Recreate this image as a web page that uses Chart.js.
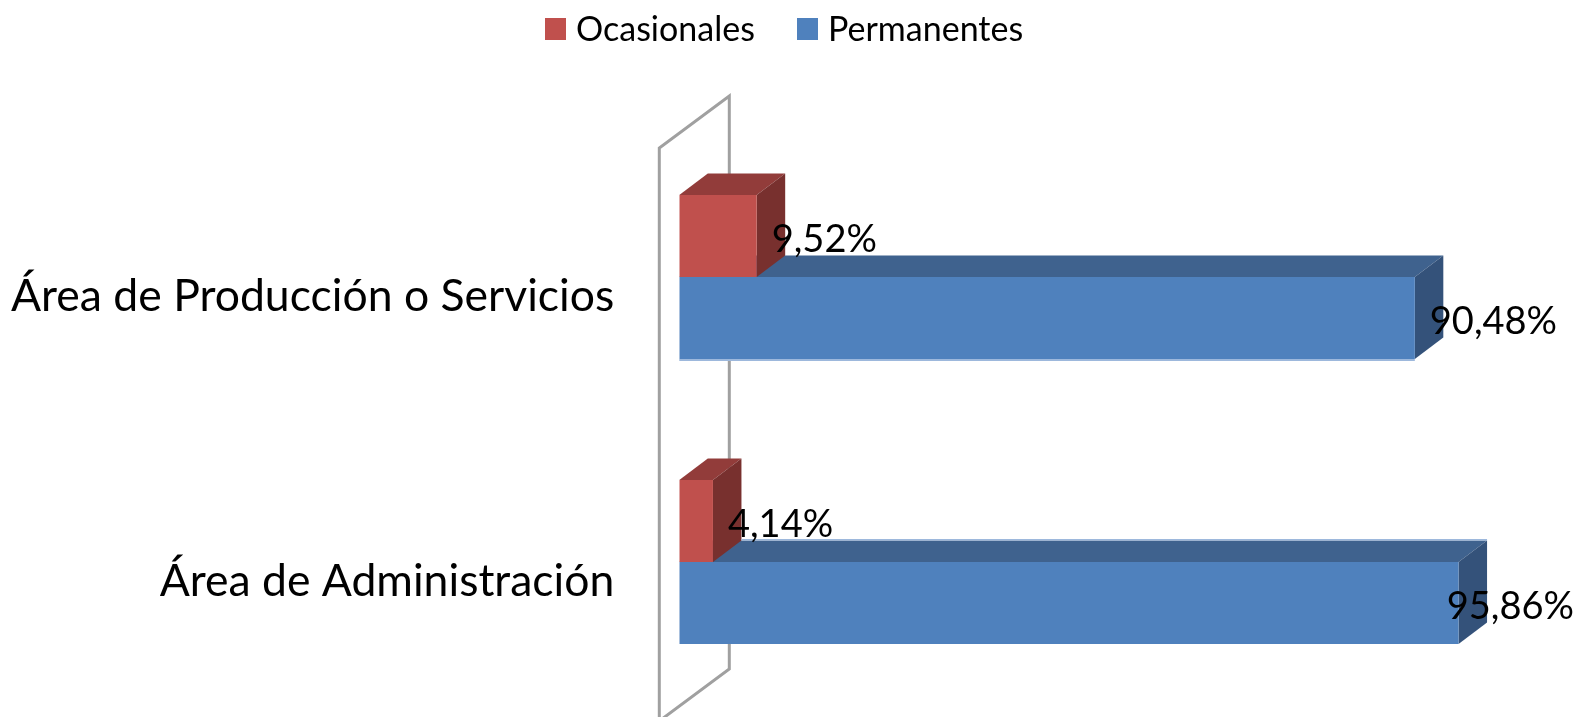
<!DOCTYPE html>
<html>
<head>
<meta charset="utf-8">
<style>html,body{margin:0;padding:0;background:#fff;overflow:hidden}#c{display:block}</style>
<script src="https://cdn.jsdelivr.net/npm/chart.js@4"></script>
</head>
<body>
<div style="width:1580px;height:717px"><canvas id="c" width="1580" height="717"></canvas></div>
<script>
const categories = ['Área de Producción o Servicios', 'Área de Administración'];
const ocasionales = [9.52, 4.14];
const permanentes = [90.48, 95.86];

const FONT = 'Lato, Carlito, "Open Sans", sans-serif';
const DX = 28.5, DY = 21.5;
const shades = {
  '#C0504D': {top: '#923C3A', side: '#78302E'},
  '#4F81BD': {top: '#3F628E', side: '#34527A'}
};

function poly(ctx, pts, fill) {
  ctx.beginPath();
  pts.forEach((p, i) => i ? ctx.lineTo(p[0], p[1]) : ctx.moveTo(p[0], p[1]));
  ctx.closePath();
  ctx.fillStyle = fill;
  ctx.fill();
}

function box3d(ctx, bar, color) {
  const s = shades[color];
  const b = bar.getProps(['x', 'y', 'base', 'height'], true);
  const t = b.y - b.height / 2, u = b.y + b.height / 2;
  poly(ctx, [[b.base, t], [b.base + DX, t - DY], [b.x + DX, t - DY], [b.x, t]], s.top);
  poly(ctx, [[b.x, t], [b.x + DX, t - DY], [b.x + DX, u - DY], [b.x, u]], s.side);
}

const depthPlugin = {
  id: 'depth',
  beforeDatasetsDraw(chart) {
    const ctx = chart.ctx, a = chart.chartArea;
    ctx.save();
    // back wall outline
    const wl = a.left - 20, wr = wl + 70, rise = 52;
    const top = a.top + 13.5, bot = a.bottom - 35.5;
    ctx.strokeStyle = '#A0A0A0';
    ctx.lineWidth = 3;
    ctx.beginPath();
    ctx.moveTo(wl, a.bottom + 30);
    ctx.lineTo(wl, top);
    ctx.lineTo(wr, top - rise);
    ctx.lineTo(wr, bot);
    ctx.lineTo(wl, bot + rise);
    ctx.stroke();
    // blue boxes sit behind the red ones
    [1, 0].forEach(d => {
      chart.getDatasetMeta(d).data.forEach(bar => box3d(ctx, bar, chart.data.datasets[d].backgroundColor));
    });
    // light edges visible in the picture
    const m = chart.getDatasetMeta(1);
    const p0 = m.data[0].getProps(['x', 'y', 'base', 'height'], true);
    const p1 = m.data[1].getProps(['x', 'y', 'base', 'height'], true);
    const redEnd = chart.getDatasetMeta(0).data[1].x;
    ctx.fillStyle = '#9DB8DC';
    ctx.fillRect(p0.base, p0.y + p0.height / 2, p0.x - p0.base, 2);
    ctx.fillRect(redEnd + DX, p1.y - p1.height / 2 - DY - 1.5, p1.x - redEnd, 1.5);
    ctx.restore();
  },
  afterDatasetsDraw(chart) {
    const ctx = chart.ctx;
    ctx.save();
    ctx.font = '38px ' + FONT;
    ctx.fillStyle = '#000';
    ctx.textBaseline = 'middle';
    ctx.textAlign = 'left';
    chart.data.datasets.forEach((ds, d) => {
      chart.getDatasetMeta(d).data.forEach((bar, i) => {
        const txt = ds.data[i].toFixed(2).replace('.', ',') + '%';
        const w = ctx.measureText(txt).width;
        const x = Math.min(bar.x + 15, chart.width - 6 - w);
        ctx.fillText(txt, x, bar.y + 4);
      });
    });
    // legend: two swatches with their series names
    ctx.font = '34px ' + FONT;
    chart.data.datasets.forEach((ds, d) => {
      const lx = d === 0 ? 545 : 797;
      ctx.fillStyle = ds.backgroundColor;
      ctx.fillRect(lx, 18, 21, 22);
      ctx.fillStyle = '#000';
      ctx.fillText(ds.label, lx + 31, 30);
    });
    ctx.restore();
  }
};

new Chart(document.getElementById('c'), {
  type: 'bar',
  data: {
    labels: categories,
    datasets: [
      {label: 'Ocasionales', data: ocasionales, backgroundColor: '#C0504D'},
      {label: 'Permanentes', data: permanentes, backgroundColor: '#4F81BD'}
    ]
  },
  options: {
    indexAxis: 'y',
    responsive: false,
    animation: false,
    categoryPercentage: 0.5754,
    barPercentage: 1,
    layout: {padding: {left: 0, right: 0, top: 134.5, bottom: 12.5}},
    plugins: {
      tooltip: {enabled: false},
      legend: {display: false}
    },
    scales: {
      x: {
        display: false, min: 0, max: 110.8
      },
      y: {
        grid: {display: false, drawTicks: false},
        border: {display: false},
        ticks: {
          color: '#000', padding: 65, labelOffset: 20,
          font: {family: FONT, size: 44.5}
        },
        afterFit(s) { s.width = 679.3; s.paddingTop = 0; s.paddingBottom = 0; }
      }
    }
  },
  plugins: [depthPlugin]
});
</script>
</body>
</html>
